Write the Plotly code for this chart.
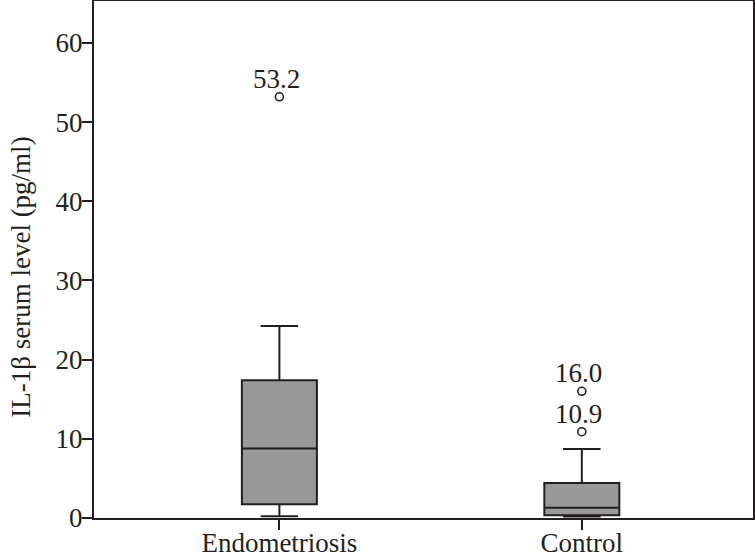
import plotly.graph_objects as go

categories = ["Endometriosis", "Control"]
cat_pos = [0, 1]
lower_whisker = [0.21, 0.2]
q1 = [1.73, 0.34]
median = [8.77, 1.31]
q3 = [17.39, 4.42]
upper_whisker = [24.25, 8.72]

outlier_x = [0, 1, 1]
outlier_y = [53.2, 10.9, 16.0]
outlier_labels = ["53.2", "10.9", "16.0"]

y_ticks = [0, 10, 20, 30, 40, 50, 60]

FONT = "Liberation Serif, Times New Roman, serif"
INK = "#231f20"

fig = go.Figure()
fig.add_trace(go.Box(
    x=cat_pos, q1=q1, median=median, q3=q3,
    lowerfence=lower_whisker, upperfence=upper_whisker,
    fillcolor="#999999", line=dict(color=INK, width=2),
    width=0.248, whiskerwidth=0.5, boxpoints=False,
    showlegend=False, hoverinfo="skip",
))
fig.add_trace(go.Scatter(
    x=outlier_x, y=outlier_y, mode="markers",
    marker=dict(symbol="circle-open", size=8, color=INK, line=dict(width=1.6, color=INK)),
    showlegend=False, hoverinfo="skip",
))
for xv, yv, lab in zip(outlier_x, outlier_y, outlier_labels):
    fig.add_annotation(x=xv, y=yv, text=lab, showarrow=False,
                       xanchor="center", yanchor="middle", yshift=18, xshift=-3,
                       font=dict(family=FONT, size=27, color=INK))

fig.add_annotation(xref="paper", yref="paper", x=-0.112, y=0.465,
                   text="IL-1β serum level (pg/ml)", textangle=-90, showarrow=False,
                   xanchor="center", yanchor="middle",
                   font=dict(family=FONT, size=27, color=INK))

fig.update_layout(
    width=755, height=557,
    margin=dict(l=94, r=2, t=1, b=39),
    plot_bgcolor="white", paper_bgcolor="white",
    font=dict(family=FONT, size=27, color=INK),
    xaxis=dict(range=[-0.613, 1.566], tickvals=cat_pos, ticktext=categories,
               showline=True, linecolor=INK, linewidth=2, mirror=True,
               ticks="outside", ticklen=10, tickwidth=2, tickcolor=INK,
               showgrid=False, zeroline=False, automargin=False,
               ticklabelstandoff=-10,
               tickfont=dict(family=FONT, size=27, color=INK)),
    yaxis=dict(range=[0, 65.3], tickvals=y_ticks,
               showline=True, linecolor=INK, linewidth=2, mirror=True,
               ticks="outside", ticklen=10, tickwidth=2, tickcolor=INK,
               showgrid=False, zeroline=False, automargin=False,
               ticklabelstandoff=-6,
               tickfont=dict(family=FONT, size=27, color=INK)),
)

fig.write_html("out.html", config={"displayModeBar": False},
               post_script="document.body.style.margin='0';document.body.style.overflow='hidden';")
